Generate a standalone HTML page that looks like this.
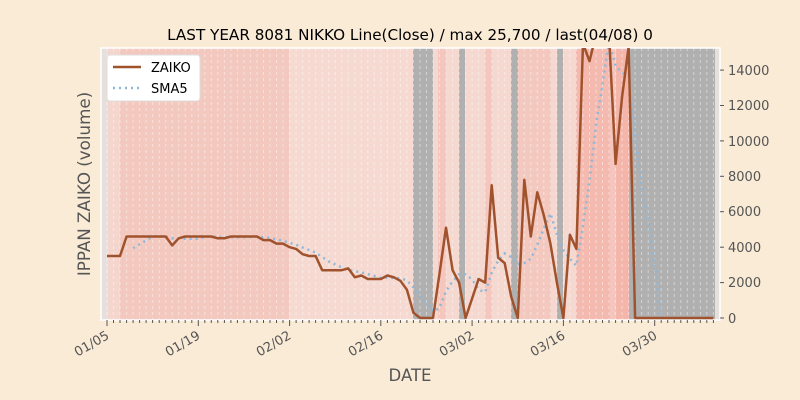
<!DOCTYPE html>
<html><head><meta charset="utf-8"><style>
body{margin:0;background:#faebd7;}
svg{display:block;font-family:"DejaVu Sans","Liberation Sans",sans-serif;}
</style></head><body>
<svg id="s" width="800" height="400" viewBox="0 0 800 400" xmlns="http://www.w3.org/2000/svg">
<rect width="800" height="400" fill="#faebd7"/>
<defs><clipPath id="c"><rect x="101" y="48" width="619" height="272"/></clipPath></defs>
<g id="bands" clip-path="url(#c)">
<rect x="101" y="48" width="619" height="272" fill="#f5d8d0"/>
<rect x="101" y="48" width="7" height="272" fill="#e6e0dc"/>
<rect x="108" y="48" width="12" height="272" fill="#f5d6cf"/>
<rect x="120" y="48" width="169" height="272" fill="#f3c8bf"/>
<rect x="289" y="48" width="124" height="272" fill="#f6dad2"/>
<rect x="413" y="48" width="20" height="272" fill="#b0b0b0"/>
<rect x="438" y="48" width="8" height="272" fill="#f4c6bd"/>
<rect x="459" y="48" width="6" height="272" fill="#b0b0b0"/>
<rect x="485" y="48" width="7" height="272" fill="#f4c6bd"/>
<rect x="511" y="48" width="7" height="272" fill="#b0b0b0"/>
<rect x="518" y="48" width="33" height="272" fill="#f3c8bf"/>
<rect x="557" y="48" width="6" height="272" fill="#b0b0b0"/>
<rect x="576" y="48" width="34" height="272" fill="#f4bab0"/>
<rect x="610" y="48" width="6" height="272" fill="#f4c6bd"/>
<rect x="616" y="48" width="13" height="272" fill="#f4b5aa"/>
<rect x="629" y="48" width="86" height="272" fill="#b0b0b0"/>
<rect x="715" y="48" width="5" height="272" fill="#e6e0dc"/>
</g>
<g id="grid" clip-path="url(#c)"></g>
<rect x="101" y="48" width="619" height="272" fill="none" stroke="#fff" stroke-width="1.5"/>
<g id="lines" clip-path="url(#c)"></g>
<g id="ticks" stroke="#555" stroke-width="1"></g>
<g font-size="13" fill="#555">
<text x="728" y="75">14000</text>
<text x="728" y="110">12000</text>
<text x="728" y="146">10000</text>
<text x="728" y="181">8000</text>
<text x="728" y="216">6000</text>
<text x="728" y="252">4000</text>
<text x="728" y="287">2000</text>
<text x="728" y="323">0</text>
</g>
<g font-size="13" fill="#555" text-anchor="end">
<text transform="translate(110,338) rotate(-30)">01/05</text>
<text transform="translate(201,338) rotate(-30)">01/19</text>
<text transform="translate(292,338) rotate(-30)">02/02</text>
<text transform="translate(384,338) rotate(-30)">02/16</text>
<text transform="translate(475,338) rotate(-30)">03/02</text>
<text transform="translate(566,338) rotate(-30)">03/16</text>
<text transform="translate(658,338) rotate(-30)">03/30</text>
</g>
<text x="410" y="40" font-size="15.2" text-anchor="middle" fill="#000">LAST YEAR 8081 NIKKO Line(Close) / max 25,700 / last(04/08) 0</text>
<text x="410" y="381" font-size="16.5" text-anchor="middle" fill="#555">DATE</text>
<text transform="translate(90,184) rotate(-90)" font-size="16.7" text-anchor="middle" fill="#555">IPPAN ZAIKO (volume)</text>
<rect x="107" y="55" width="93" height="46" rx="3" fill="#fff" stroke="#ddd"/>
<line x1="113" y1="67" x2="141" y2="67" stroke="#a0522d" stroke-width="2.5"/>
<line x1="113" y1="88" x2="141" y2="88" stroke="#8fb8d8" stroke-width="2.5" stroke-dasharray="2,4"/>
<text x="151" y="72" font-size="13" fill="#000">ZAIKO</text>
<text x="151" y="93" font-size="13" fill="#000">SMA5</text>
</svg>
<script>
var z=[3500,3500,3500,4600,4600,4600,4600,4600,4600,4600,4100,4500,4600,4600,4600,4600,4600,4500,4500,4600,4600,4600,4600,4600,4400,4400,4200,4200,4000,3900,3600,3500,3500,2700,2700,2700,2700,2800,2300,2400,2200,2200,2200,2400,2300,2100,1600,300,0,0,0,2500,5100,2700,2000,0,1100,2200,2000,7500,3400,3100,1200,0,7800,4600,7100,5800,4200,2000,0,4700,3900,15500,14500,16000,16000,16000,8700,12500,15300,0,0,0,0,0,0,0,0,0,0,0,0,0];
function X(i){return 107+i*6.52}function Y(v){return 318-v*0.01771}
var p=z.map(function(v,i){return X(i).toFixed(1)+","+Y(v).toFixed(1)}).join(" ");
var q=[];for(var i=4;i<z.length;i++){var s=0;for(var k=0;k<5;k++)s+=z[i-k];q.push(X(i).toFixed(1)+","+Y(s/5).toFixed(1));}
var L=document.getElementById("lines");
L.innerHTML='<polyline points="'+q.join(" ")+'" fill="none" stroke="#8fb8d8" stroke-width="2.5" stroke-dasharray="2,4"/><polyline points="'+p+'" fill="none" stroke="#a0522d" stroke-width="2.5" stroke-linejoin="round"/>';
var g="",t="";
for(var i=0;i<z.length;i++){var x=X(i).toFixed(1);g+='<line x1="'+x+'" y1="48" x2="'+x+'" y2="320" stroke="#fff" stroke-opacity="0.45" stroke-dasharray="3,3"/>';t+='<line x1="'+x+'" y1="320" x2="'+x+'" y2="'+(i%14==0?326:323)+'"/>';}
for(var v=0;v<=14000;v+=2000){var y=Y(v).toFixed(1);t+='<line x1="720" y1="'+y+'" x2="724" y2="'+y+'"/>';}
document.getElementById("grid").innerHTML=g;document.getElementById("ticks").innerHTML=t;
</script>
</body></html>
